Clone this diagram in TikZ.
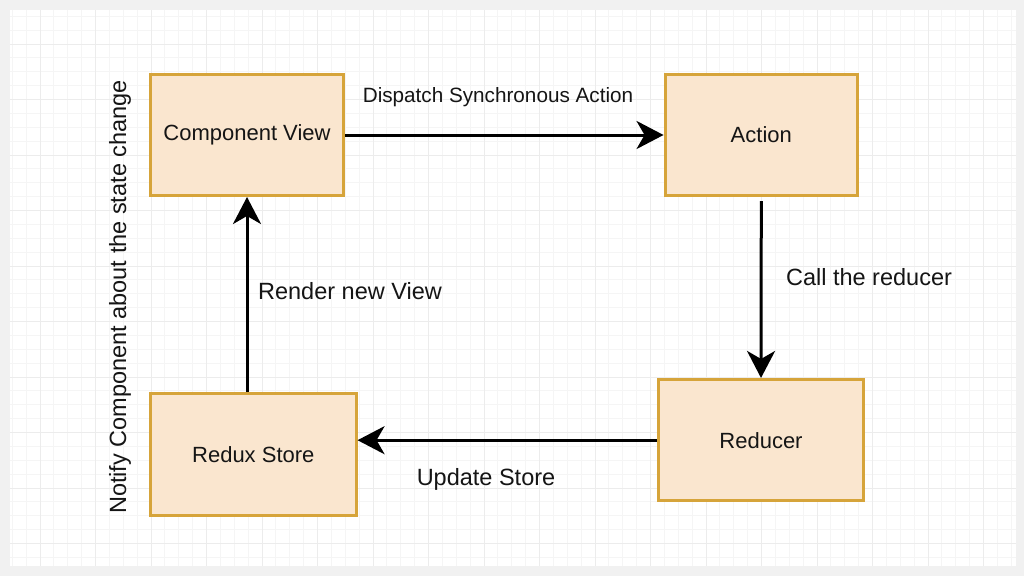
\documentclass[tikz,border=0pt]{standalone}
\usepackage{fontspec}
\setmainfont{Liberation Sans}
\usetikzlibrary{arrows.meta}
\definecolor{bggray}{HTML}{F1F1F1}
\definecolor{minorgrid}{HTML}{F5F5F5}
\definecolor{majorgrid}{HTML}{ECECEC}
\definecolor{boxfill}{HTML}{FAE6CF}
\definecolor{boxdraw}{HTML}{D6A43A}
\definecolor{txt}{HTML}{151515}
\tikzset{
  stepbox/.style={draw=boxdraw, fill=boxfill, line width=3pt, text=txt,
    font=\fontsize{22}{26}\selectfont, inner sep=0pt},
  flow/.style={line width=3pt, -{Stealth[length=27pt,width=28pt,inset=8pt]}},
  lbl/.style={text=txt, font=\fontsize{23.5}{28}\selectfont, inner sep=0pt},
  minorline/.style={draw=minorgrid, line width=0.9pt},
  majorline/.style={draw=majorgrid, line width=1pt}
}
\begin{document}
\begin{tikzpicture}[x=1pt,y=-1pt]
\useasboundingbox (0,0) rectangle (1024,576);
\fill[bggray] (0,0) rectangle (1024,576);
\fill[white] (10,10) rectangle (1016,566);
\begin{scope}
\clip (10,10) rectangle (1016,566);
\foreach \i in {0,...,72} \draw[minorline] ({12.25+\i*13.875},10) -- ++(0,556);
\foreach \i in {0,...,39} \draw[minorline] (10,{16.25+\i*13.875}) -- ++(1006,0);
\foreach \i in {0,...,17} \draw[majorline] ({40+\i*55.5},10) -- ++(0,556);
\foreach \i in {0,...,9} \draw[majorline] (10,{44+\i*55.5}) -- ++(1006,0);
\end{scope}

\node[stepbox, minimum width=193pt, minimum height=121pt] (comp) at (247,135) {Component View};
\node[stepbox, minimum width=192.5pt, minimum height=121pt] (action) at (761.3,135) {Action};
\node[stepbox, minimum width=205pt, minimum height=121.5pt] (reducer) at (761,440.2) {Reducer};
\node[stepbox, minimum width=205.5pt, minimum height=122pt] (redux) at (253.3,454.5) {Redux Store};

\draw[flow] (comp) -- (action);
\draw[flow] ([yshift=-4pt]action.south) -- (reducer.north);
\draw[flow] (reducer.west) -- (reducer.west -| redux.east);
\draw[flow] (redux.north -| comp.south) -- (comp.south);

\node[lbl, font=\fontsize{20.7}{25}\selectfont] (l1) at (498,97) {Dispatch Synchronous Action};
\node[lbl] (l2) at (869,277) {Call the reducer};
\node[lbl] (l3) at (486,479) {Update Store};
\node[lbl] (l4) at (350,291) {Render new View};
\node[lbl, rotate=90] (l5) at (120,297) {Notify Component about the state change};
\end{tikzpicture}
\end{document}
